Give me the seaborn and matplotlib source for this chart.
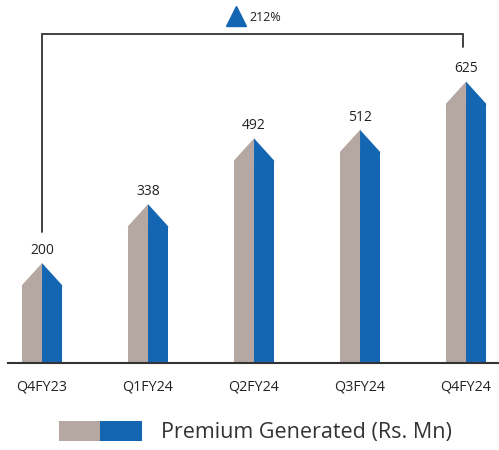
import matplotlib
matplotlib.use("Agg")
import matplotlib.pyplot as plt
from matplotlib.patches import Patch
from matplotlib.legend_handler import HandlerTuple
import seaborn as sns
import pandas as pd

quarters = ["Q4FY23", "Q1FY24", "Q2FY24", "Q3FY24", "Q4FY24"]
premium = [200, 338, 492, 512, 625]
growth_label = "212%"
legend_label = "Premium Generated (Rs. Mn)"

GREY = "#b5a8a3"
BLUE = "#1466b3"
TIP_LOW, TIP_HIGH = 18, 34   # shoulder below / peak above the value
BAR_W = 0.38

sns.set_theme(style="white")
plt.rcParams["font.family"] = ["Open Sans", "DejaVu Sans"]

fig = plt.figure(figsize=(4.99, 4.5), dpi=100)
ax = fig.add_axes([8 / 499, 87 / 450, 491 / 499, 363 / 450])

# Each bar is split into a grey left half and a blue right half
rows = []
for q, v in zip(quarters, premium):
    rows.append({"quarter": q, "half": "left", "height": v - TIP_LOW})
    rows.append({"quarter": q, "half": "right", "height": v - TIP_LOW})
df = pd.DataFrame(rows)

sns.barplot(data=df, x="quarter", y="height", hue="half", order=quarters,
            hue_order=["left", "right"], palette=[GREY, BLUE],
            width=BAR_W, gap=0, dodge=True, legend=False, ax=ax,
            linewidth=0, saturation=1)

# Pointed tops (polygons reach slightly into the bar body to avoid seams)
for i, v in enumerate(premium):
    s, p = v - TIP_LOW, v + TIP_HIGH
    ov = 4
    ax.fill([i - BAR_W / 2, i - BAR_W / 2, i, i],
            [s - ov, s, p, s - ov], color=GREY, lw=0)
    ax.fill([i, i, i + BAR_W / 2, i + BAR_W / 2],
            [s - ov, p, s, s - ov], color=BLUE, lw=0)
    ax.text(i, v + 64, str(v), ha="center", va="center", fontsize=10,
            color="#222222")

# Growth bracket from first to last quarter
ax.plot([0, 0, 3.97, 3.97], [307, 770, 770, 740], color="#333333", lw=1.3,
        solid_joinstyle="miter")
ax.plot([1.83], [812], marker="^", markersize=15, color=BLUE, mec=BLUE)
ax.text(1.96, 808, growth_label, ha="left", va="center", fontsize=9,
        color="#222222")

ax.set_xlim(-0.321, 4.311)
ax.set_ylim(0, 850)
ax.set_xlabel("")
ax.set_ylabel("")
ax.set_yticks([])
ax.tick_params(axis="x", length=0, pad=12, labelsize=10.3, labelcolor="#222222")
for side in ["top", "left", "right"]:
    ax.spines[side].set_visible(False)
ax.spines["bottom"].set_color("#333333")
ax.spines["bottom"].set_linewidth(1.5)

handle = (Patch(facecolor=GREY, lw=0), Patch(facecolor=BLUE, lw=0))
fig.legend([handle], [legend_label],
           handler_map={tuple: HandlerTuple(ndivide=None, pad=0)},
           loc="center left", bbox_to_anchor=(59 / 499, 18 / 450),
           frameon=False, borderpad=0, borderaxespad=0, fontsize=15.5,
           handlelength=3.85, handleheight=1.1, handletextpad=0.9,
           labelcolor="#333333")

fig.savefig("out.png", dpi=100)
